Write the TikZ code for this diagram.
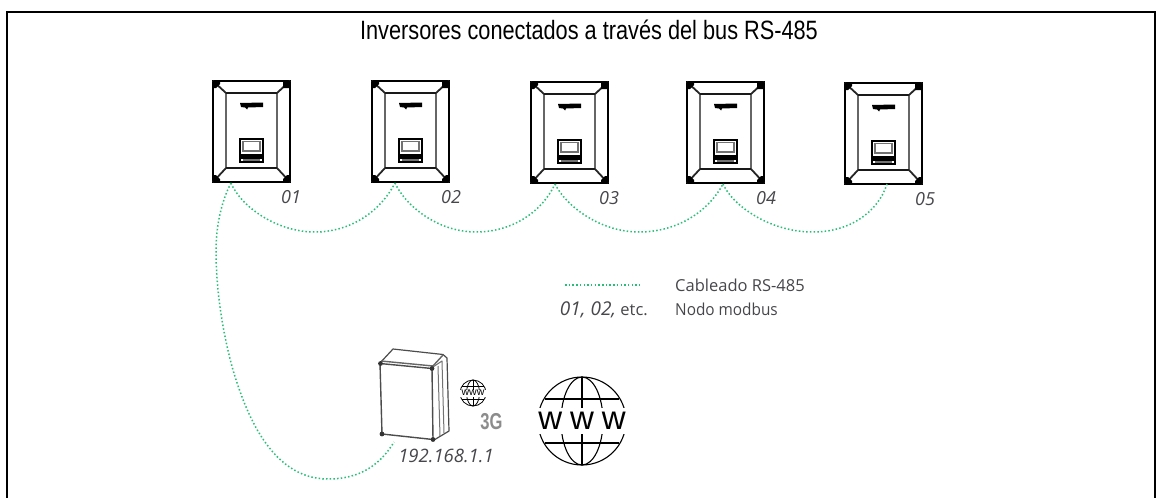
\documentclass[tikz,border=0pt]{standalone}
\usepackage{fontspec}
\setmainfont{Liberation Sans}
\newfontfamily\labfont{Open Sans}
\definecolor{wire}{RGB}{40,190,120}
\definecolor{txtgray}{RGB}{70,70,75}
\tikzset{
  wirelink/.style={draw=wire,line width=1.5pt,dash pattern=on 1.5pt off 2.2pt},
  num/.style={font=\labfont\itshape\fontsize{18}{20}\selectfont,text=txtgray,inner sep=0pt},
  legend/.style={font=\labfont\fontsize{16.5}{18}\selectfont,text=txtgray,inner sep=0pt},
  pics/inverter/.style={code={
    \draw[line width=2pt,black] (0,0) rectangle (77,101);
    \draw[line width=1.9pt,black!60] (13,12) rectangle (64,87);
    \draw[line width=1.8pt,black!90] (13,12)--(64,12) (13,87)--(64,87);
    \draw[line width=1.8pt,black!85] (0,0)--(13,12) (77,0)--(64,12) (0,101)--(13,87) (77,101)--(64,87);
    \fill (0,0) -- (7,0) -- (7,3) -- (3,7) -- (0,7) -- cycle
          (77,0) -- (70,0) -- (70,7) -- (77,7) -- cycle
          (0,101) -- (0,94) -- (3,94) -- (7,98) -- (7,101) -- cycle
          (77,101) -- (70,101) -- (70,98) -- (74,94) -- (77,94) -- cycle;
    \fill (27,22) -- (50,21.5) -- (50,26) -- (35,26.5) -- (34,28.5) -- (32,26.5) -- (28,26) -- cycle;
    \draw[line width=1.8pt] (27,58) rectangle (50,81);
    \draw[line width=1.4pt,black!55] (30,60.5) rectangle (47,70);
    \fill (28,73) rectangle (49,77.5);
    \draw[line width=1.2pt,black!55] (30,79)--(47,79);
  }},
}
\begin{document}
\begin{tikzpicture}[x=1pt,y=-1pt]
\useasboundingbox (0,0) rectangle (1163,498);
\draw[line width=2pt,black] (7,498) -- (7,11.5) -- (1155,11.5) -- (1155,498);
\node[font=\fontsize{26.5}{28}\selectfont,inner sep=0pt,xscale=.82] (title) at (589,30) {Inversores conectados a través del bus RS-485};

\pic at (213,81) {inverter};
\pic at (372,81) {inverter};
\pic at (531,82) {inverter};
\pic at (687,82) {inverter};
\pic at (845,83) {inverter};

\node[num] (n1) at (291,197) {01};
\node[num] (n2) at (451,197) {02};
\node[num] (n3) at (609,198) {03};
\node[num] (n4) at (766,198) {04};
\node[num] (n5) at (925,199) {05};

\coordinate (p1) at (231,183);
\coordinate (p2) at (395,183);
\coordinate (p3) at (555,184);
\coordinate (p4) at (723,184);
\coordinate (p5) at (887,184);
\coordinate (box) at (394,442);

\draw[wirelink] (p1) .. controls (240,205) and (275,232) .. (315,232) .. controls (350,232) and (380,212) .. (p2);
\draw[wirelink] (p2) .. controls (405,205) and (437,232) .. (476,232) .. controls (512,232) and (542,212) .. (p3);
\draw[wirelink] (p3) .. controls (566,206) and (600,232) .. (639,232) .. controls (677,232) and (708,212) .. (p4);
\draw[wirelink] (p4) .. controls (733,206) and (770,232) .. (813,232) .. controls (850,232) and (878,212) .. (p5);
\draw[wirelink] (p1) .. controls (222,200) and (216,225) .. (216,250) .. controls (216,300) and (226,345) .. (233,370) .. controls (245,410) and (270,479) .. (328,479) .. controls (360,479) and (380,465) .. (box);

% enclosure
\begin{scope}[line join=round]
\fill[white] (380,363) -- (393,349) -- (445,355) -- (449,432) -- (433,440) -- (382,434) -- cycle;
\draw[line width=1.2pt,black!70] (380,363) -- (393,349) -- (443,354.5) -- (447,358) -- (449,431) -- (434,440);
\draw[line width=1.4pt,black!60] (381,361) -- (433,366) -- (443,355);
\draw[line width=1.4pt,black!70] (380,363.5) -- (432,368.5);
\draw[line width=1.4pt,black!70] (380,363) -- (382,434) -- (433,439.5) -- (432,368);
\draw[line width=1pt,black!55] (438,366) -- (440,436);
\draw[line width=1pt,black!55] (433,367) -- (442,361) -- (444,433);
\fill[black!80] (380.5,363.5) circle (2.4) (432,368.5) circle (2.4) (382,434) circle (2.4) (433,439.5) circle (2.4);
\end{scope}
\node[num,font=\labfont\itshape\fontsize{18.5}{20}\selectfont] (ip) at (446,456) {192.168.1.1};

% small globe
\begin{scope}[shift={(473,393)}]
\draw[line width=.8pt] (0,0) circle (13);
\draw[line width=.8pt] (0,0) ellipse (6.5 and 13);
\draw[line width=.8pt] (0,-13)--(0,13) (-11,-6.5)--(11,-6.5) (-11,6.5)--(11,6.5);
\fill[white] (-14,-3.5) rectangle (14,3.5);
\end{scope}
\node[font=\fontsize{10.5}{12}\selectfont,inner sep=0pt] (w3) at (473,393) {www};
\node[font=\bfseries\fontsize{23}{25}\selectfont,text=black!45,inner sep=0pt,xscale=.72] (g3) at (491.5,421.5) {3G};

% big globe
\begin{scope}[shift={(582,421)},line width=1.1pt]
\draw (0,0) circle (44);
\draw (0,0) ellipse (21 and 44);
\draw (0,-44)--(0,44) (-37,-22)--(37,-22) (-37,22)--(37,22);
\fill[white] (-46,-13) rectangle (46,13);
\end{scope}
\node[font=\fontsize{33}{36}\selectfont,inner sep=0pt] (www) at (582,421) {w\hspace{8pt}w\hspace{8pt}w};

% legend
\coordinate (la) at (565,285);
\coordinate (lb) at (640,285);
\draw[wirelink] (la) -- (lb);
\node[legend,anchor=west] (l1) at (675,285.5) {Cableado RS-485};
\node[legend,anchor=west,xscale=.93] (l2) at (675,309.5) {Nodo modbus};
\node[legend,anchor=east] (l3) at (648,309.5) {{\fontsize{19}{20}\selectfont\itshape 01, 02,} etc.};
\end{tikzpicture}
\end{document}
